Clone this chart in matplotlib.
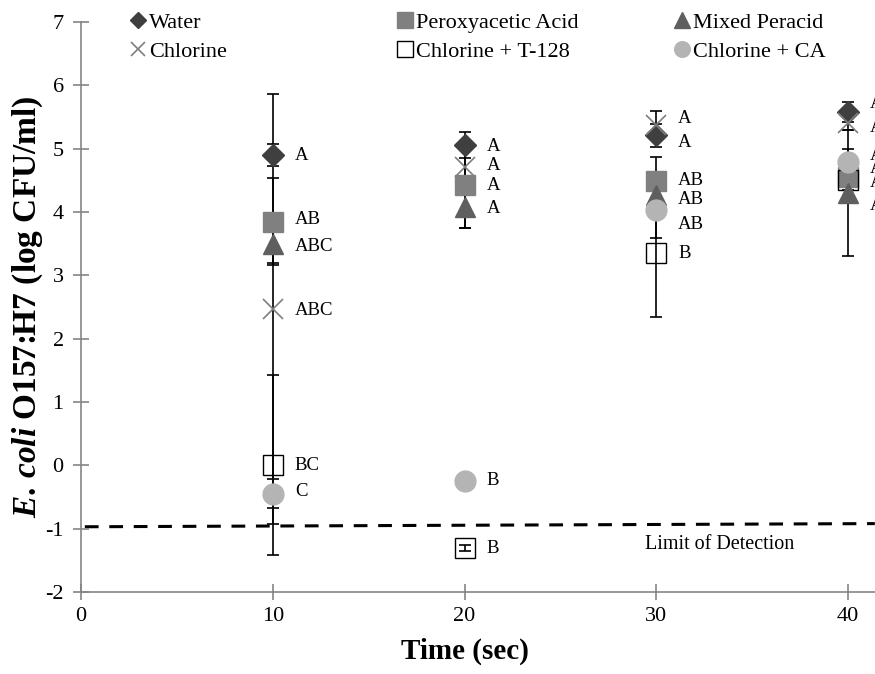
import matplotlib
matplotlib.use("Agg")
import matplotlib.pyplot as plt

# ------------------------------- data -------------------------------
times = [10, 20, 30, 40]

water = [4.90, 5.06, 5.21, 5.58]
water_err = [0.17, 0.20, 0.18, 0.16]
peroxy = [3.85, 4.42, 4.49, 4.55]
peroxy_err = [0.68, 0.67, 0.38, 0.20]
mixed = [3.50, 4.08, 4.27, 4.30]
mixed_err = [0.30, 0.33, 0.30, 0.99]
chlorine = [2.47, 4.71, 5.38, 5.40]
chlorine_err = [3.40, 0.30, 0.21, 0.11]
t128 = [0.00, -1.31, 3.35, 4.50]
t128_err = [1.42, 0.05, 1.01, 0.30]
ca = [-0.45, -0.25, 4.03, 4.79]
ca_err = [0.23, 0.00, 0.44, 0.20]

# significance letters and where they sit (y)
water_lbl = ["A", "A", "A", "A"]
water_lbl_y = [4.90, 5.04, 5.10, 5.72]
peroxy_lbl = ["AB", "A", "AB", "A"]
peroxy_lbl_y = [3.88, 4.42, 4.50, 4.68]
mixed_lbl = ["ABC", "A", "AB", "A"]
mixed_lbl_y = [3.45, 4.05, 4.19, 4.11]
chlorine_lbl = ["ABC", "A", "A", "A"]
chlorine_lbl_y = [2.45, 4.73, 5.48, 5.33]
t128_lbl = ["BC", "B", "B", "A"]
t128_lbl_y = [-0.01, -1.31, 3.35, 4.46]
ca_lbl = ["C", "B", "AB", "A"]
ca_lbl_y = [-0.41, -0.24, 3.81, 4.90]

lod_x = [0.2, 41.4]
lod_y = [-0.97, -0.92]

# ------------------------------- style -------------------------------
plt.rcParams["font.family"] = ["Liberation Serif", "DejaVu Serif"]
plt.rcParams["axes.unicode_minus"] = False
plt.rcParams["mathtext.fontset"] = "custom"
plt.rcParams["mathtext.it"] = "Liberation Serif:italic:bold"
plt.rcParams["mathtext.rm"] = "Liberation Serif:bold"

W, H = 875, 674
fig = plt.figure(figsize=(W / 100, H / 100), dpi=100)
ax = fig.add_axes([81 / W, (H - 592) / H, (W - 81) / W, (592 - 22) / H])
ax.set_xlim(0, 794 / 19.175)
ax.set_ylim(-2, 7)

series = [
    # name, values, err, letters, letter y, marker kwargs
    ("Water", water, water_err, water_lbl, water_lbl_y,
     dict(marker="D", ms=11, mfc="#3f3f3f", mec="#3f3f3f")),
    ("Chlorine", chlorine, chlorine_err, chlorine_lbl, chlorine_lbl_y,
     dict(marker="x", ms=14, mec="#7f7f7f", mew=1.2)),
    ("Peroxyacetic Acid", peroxy, peroxy_err, peroxy_lbl, peroxy_lbl_y,
     dict(marker="s", ms=15, mfc="#808080", mec="#808080")),
    ("Chlorine + T-128", t128, t128_err, t128_lbl, t128_lbl_y,
     dict(marker="s", ms=15, mfc="none", mec="black", mew=1.0)),
    ("Mixed Peracid", mixed, mixed_err, mixed_lbl, mixed_lbl_y,
     dict(marker="^", ms=15, mfc="#5f5f5f", mec="#5f5f5f")),
    ("Chlorine + CA", ca, ca_err, ca_lbl, ca_lbl_y,
     dict(marker="o", ms=15, mfc="#b4b4b4", mec="#b4b4b4")),
]

handles = []
for name, vals, err, lbls, lbl_y, mk in series:
    ax.errorbar(times, vals, yerr=err, fmt="none", ecolor="black",
                elinewidth=1.2, capsize=4, capthick=1.2, zorder=2)
    h, = ax.plot(times, vals, linestyle="none", zorder=3, label=name, **mk)
    handles.append(h)
    for t, s, y in zip(times, lbls, lbl_y):
        ax.text(t + 1.15, y, s, fontsize=13.5, va="center", ha="left")

# limit of detection
ax.plot(lod_x, lod_y, color="black", lw=2.2, linestyle=(0, (4.5, 3.5)),
        zorder=1, clip_on=False)
ax.text(29.4, -1.25, "Limit of Detection", fontsize=14.5, va="center", ha="left")

# axes styling
for side in ["top", "right"]:
    ax.spines[side].set_visible(False)
for side in ["left", "bottom"]:
    ax.spines[side].set_color("#858585")
    ax.spines[side].set_linewidth(1.2)
ax.set_xticks([0, 10, 20, 30, 40])
ax.set_yticks(range(-2, 8))
ax.tick_params(direction="inout", length=11, width=1.2, color="#858585",
               labelsize=16)
ax.tick_params(axis="y", pad=7)
ax.tick_params(axis="x", pad=5)

ax.set_xlabel("Time (sec)", fontsize=21, fontweight="bold")
ax.xaxis.set_label_coords(0.484, -0.08)
ax.set_ylabel(r"$\mathit{E.\,coli}$ O157:H7 (log CFU/ml)",
              fontsize=24, fontweight="bold")
ax.yaxis.set_label_coords(-36 / 794, 0.5)

# legend in three columns
cols = [(handles[0:2], 138), (handles[2:4], 405), (handles[4:6], 682)]
for hs, xm in cols:
    fig.legend(handles=hs, loc="upper left",
               bbox_to_anchor=((xm - 8) / W, 1 - 12 / H),
               frameon=False, fontsize=16, handlelength=0.7,
               handletextpad=0.15, borderpad=0, borderaxespad=0,
               labelspacing=0.38, markerscale=0.75)

fig.savefig("out.png", dpi=100)
